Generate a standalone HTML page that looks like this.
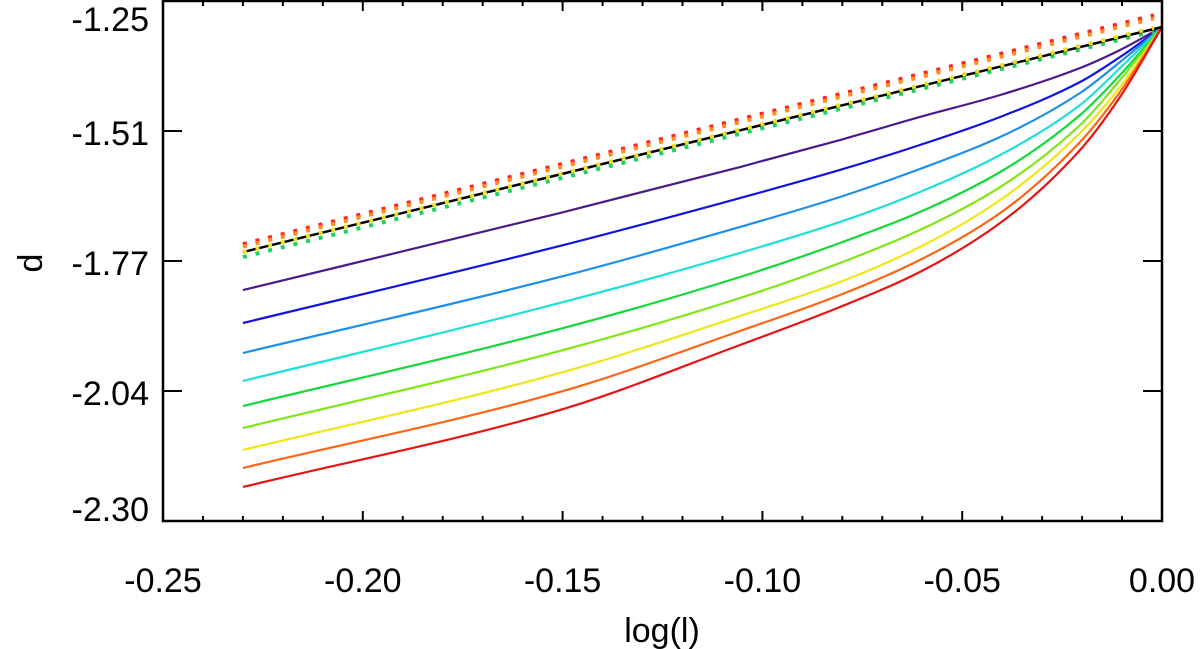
<!DOCTYPE html>
<html><head><meta charset="utf-8"><style>
html,body{margin:0;padding:0;background:#fff;}
svg{display:block;font-family:"Liberation Sans",Arial,sans-serif;}
</style></head><body>
<svg id="chart" width="1200" height="649" viewBox="0 0 1200 649" xmlns="http://www.w3.org/2000/svg"></svg>
<script>
const xTickVals=[-0.25,-0.20,-0.15,-0.10,-0.05,0.00];
const xTickLabels=["-0.25","-0.20","-0.15","-0.10","-0.05","0.00"];
const yTickVals=[-1.25,-1.5125,-1.775,-2.0375,-2.30];
const yTickLabels=["-1.25","-1.51","-1.77","-2.04","-2.30"];
const sampleX=[-0.23,-0.1507,-0.1056,-0.0806,-0.0606,-0.0405,-0.0205,-0.0105,0.0];
const curveColors=["#4b1a8c","#1414e0","#1e90e8","#1ee0d8","#14d83c","#80e614","#f0e614","#ff6414","#e81414"];
const curvePurple=[-1.8336,-1.6781,-1.5852,-1.5307,-1.4842,-1.4398,-1.3853,-1.3489,-1.3025];
const curveBlue=[-1.9002,-1.7447,-1.6478,-1.5912,-1.5408,-1.4842,-1.4136,-1.3631,-1.3025];
const curveAzure=[-1.9608,-1.8073,-1.7063,-1.6458,-1.5892,-1.5246,-1.4358,-1.3732,-1.3025];
const curveCyan=[-2.0173,-1.8598,-1.7588,-1.6962,-1.6357,-1.5610,-1.4600,-1.3853,-1.3025];
const curveGreen=[-2.0678,-1.9123,-1.8073,-1.7387,-1.6761,-1.5953,-1.4802,-1.3994,-1.3025];
const curveLime=[-2.1122,-1.9567,-1.8497,-1.7790,-1.7124,-1.6256,-1.5004,-1.4095,-1.3025];
const curveYellow=[-2.1566,-2.0011,-1.8861,-1.8174,-1.7467,-1.6518,-1.5165,-1.4237,-1.3025];
const curveOrange=[-2.1930,-2.0395,-1.9163,-1.8437,-1.7730,-1.6781,-1.5347,-1.4338,-1.3025];
const curveRed=[-2.2313,-2.0759,-1.9446,-1.8679,-1.7972,-1.6983,-1.5509,-1.4438,-1.3025];
const blackX=[-0.23,0.0];
const blackY=[-1.757,-1.3025];
const dotX=[-0.23,-0.002];
const dotRed=[-1.741,-1.279];
const dotOrange=[-1.746,-1.285];
const dotYellow=[-1.757,-1.304];
const dotGreen=[-1.767,-1.311];

const L=163,R=1162,T=1,B=521;
const xMin=-0.25,xMax=0,yMin=-2.30,yMax=-1.25;
const sx=v=>L+(v-xMin)/(xMax-xMin)*(R-L);
const sy=v=>B-(v-yMin)/(yMax-yMin)*(B-T);
const svg=document.getElementById('chart');
const NS='http://www.w3.org/2000/svg';
function mk(tag,attrs){const e=document.createElementNS(NS,tag);for(const k in attrs)e.setAttribute(k,attrs[k]);svg.appendChild(e);return e;}
function monotone(xs,ys){
  const px=xs.map(sx), py=ys.map(sy), n=px.length;
  const h=[],s=[];
  for(let i=0;i<n-1;i++){h.push(px[i+1]-px[i]);s.push((py[i+1]-py[i])/h[i]);}
  const m=new Array(n);
  m[0]=s[0]; m[n-1]=s[n-2];
  for(let i=1;i<n-1;i++){
    if(s[i-1]*s[i]<=0)m[i]=0;
    else{const w1=2*h[i]+h[i-1],w2=h[i]+2*h[i-1];m[i]=(w1+w2)/(w1/s[i-1]+w2/s[i]);}
  }
  let d='M'+px[0]+','+py[0];
  for(let i=0;i<n-1;i++){
    const dx=h[i]/3;
    d+=' C'+(px[i]+dx)+','+(py[i]+m[i]*dx)+' '+(px[i+1]-dx)+','+(py[i+1]-m[i+1]*dx)+' '+px[i+1]+','+py[i+1];
  }
  return d;
}
const curves=[curvePurple,curveBlue,curveAzure,curveCyan,curveGreen,curveLime,curveYellow,curveOrange,curveRed];
const names=['purple','blue','azure','cyan','green','lime','yellow','orange','red'];
curves.forEach((c,i)=>{
  const e=mk('path',{d:monotone(sampleX,c),fill:'none',stroke:curveColors[i],'stroke-width':2.2});
  
  
});
const dots=[[dotRed,'#ff2020','dotted-red'],[dotOrange,'#ff8c1e','dotted-orange'],[dotGreen,'#20d060','dotted-green']];
dots.forEach(([ys,col,nm])=>{
  const e=mk('line',{x1:sx(dotX[0]),y1:sy(ys[0]),x2:sx(dotX[1]),y2:sy(ys[1]),stroke:col,'stroke-width':4,'stroke-dasharray':'4 9'});
  
  
});
const bl=mk('line',{x1:sx(blackX[0]),y1:sy(blackY[0]),x2:sx(blackX[1]),y2:sy(blackY[1]),stroke:'#000','stroke-width':2.5});


const dy=mk('line',{x1:sx(dotX[0]),y1:sy(dotYellow[0]),x2:sx(dotX[1]),y2:sy(dotYellow[1]),stroke:'#e8e020','stroke-width':4,'stroke-dasharray':'4 9'});



const box=mk('rect',{x:L,y:T,width:R-L,height:B-T,fill:'none',stroke:'#000','stroke-width':2.5});


for(let k=0;k<=25;k++){
  const v=xMin+k*0.01, x=sx(v), major=(k%5===0), len=major?10:5;
  mk('line',{x1:x,y1:B,x2:x,y2:B-len,stroke:'#000','stroke-width':2});
  mk('line',{x1:x,y1:T,x2:x,y2:T+len,stroke:'#000','stroke-width':2});
}
xTickVals.forEach((v,i)=>{
  const t=mk('text',{x:sx(v),y:592,'font-size':34,'text-anchor':'middle',fill:'#000'});
  t.textContent=xTickLabels[i];
  
  
});
yTickVals.forEach((v,i)=>{
  const y=sy(v);
  mk('line',{x1:L,y1:y,x2:L+19,y2:y,stroke:'#000','stroke-width':2});
  mk('line',{x1:R,y1:y,x2:R-19,y2:y,stroke:'#000','stroke-width':2});
  let ty=y+14; if(i===0) ty=31; if(i===yTickLabels.length-1) ty=521;
  const t=mk('text',{x:149,y:ty,'font-size':34,'text-anchor':'end',fill:'#000'});
  t.textContent=yTickLabels[i];
  
  
});
const xt=mk('text',{x:662,y:642,'font-size':34,'text-anchor':'middle',fill:'#000'});
xt.textContent='log(l)';


const yt=mk('text',{x:0,y:0,'font-size':34,'text-anchor':'middle',fill:'#000',transform:'translate(42,263) rotate(-90)'});
yt.textContent='d';


</script>
</body></html>
